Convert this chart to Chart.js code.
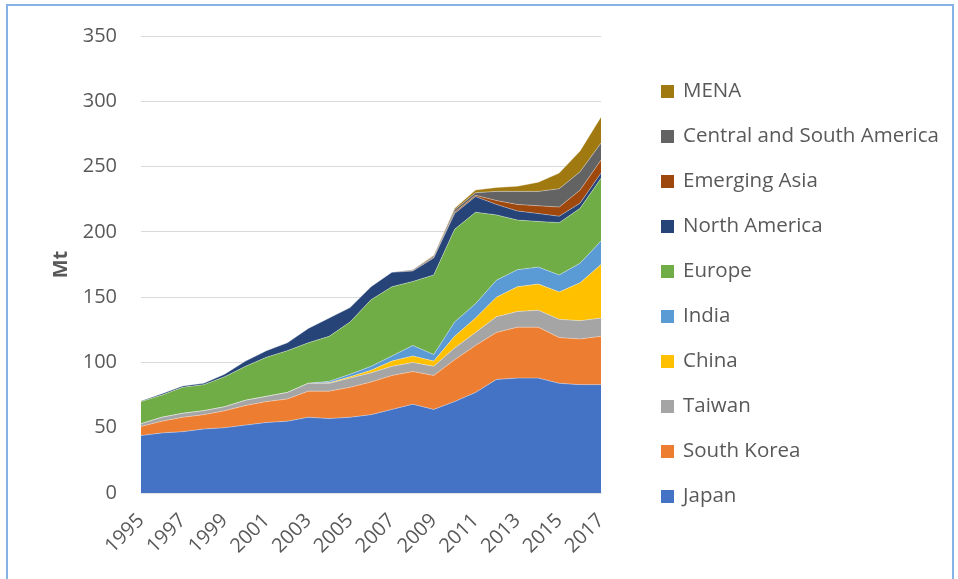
<!DOCTYPE html>
<html>
<head>
<meta charset="utf-8">
<script src="https://cdn.jsdelivr.net/npm/chart.js@4.4.1/dist/chart.umd.min.js"></script>
<style>
  html, body { margin: 0; padding: 0; background: #ffffff; }
  #wrap { position: relative; width: 958px; height: 579px; overflow: hidden; }
  #frame { position: absolute; left: 6px; top: 4px; width: 948px; height: 590px; border: 2px solid #86b3e3; box-sizing: border-box; pointer-events: none; }
  canvas { position: absolute; left: 0; top: 0; }
</style>
</head>
<body>
<div id="wrap">
  <canvas id="c" width="958" height="579"></canvas>
  <div id="frame"></div>
</div>
<script>
const years = ['1995','1996','1997','1998','1999','2000','2001','2002','2003','2004','2005','2006','2007','2008','2009','2010','2011','2012','2013','2014','2015','2016','2017'];

const japan       = [44,46,47,49,50,52,54,55,58,57,58,60,64,68,64,70,77,87,88,88,84,83,83];
const southKorea  = [7,9,11,11,13,15,16,17,20,21,23,25,26,25,26,32,36,36,39,39,35,35,37];
const taiwan      = [2,3,3,3,3,4,4,5,6,6,7,7,7,7,7,9,10,12,12,13,14,14,14];
const china       = [0,0,0,0,0,0,0,0,0,0.5,1,2,4,5,4,9,11,15,19,20,21,29,41];
const india       = [0,0,0,0,0,0,0,0,0,1,2,3,4,8,5,11,11,13,13,13,13,15,18];
const europe      = [17,17,20,20,23,26,30,32,31,34.5,40,51,53,49,61,71,70,50,38,35,40,42,48];
const northAmerica= [0.5,1,1,1,2,4,5,6,11,14,11,10,11,8,13,12,12,8,7,6,5,4,4];
const emergingAsia= [0,0,0,0,0,0,0,0,0,0,0,0,0,0.5,0.5,1,1,3,5,6,7,10,10];
const centralSouthAmerica = [0,0,0,0,0,0,0,0,0,0,0,0,0,0.5,1,2,2,7,10,11,14,14,13];
const mena        = [0,0,0,0,0,0,0,0,0,0,0,0,0,0,0.5,1,2,3,4,7,12,16,20];

const yTicks = [0,50,100,150,200,250,300,350];

const seriesNames = ['Japan','South Korea','Taiwan','China','India','Europe','North America','Emerging Asia','Central and South America','MENA'];
const seriesData = [japan, southKorea, taiwan, china, india, europe, northAmerica, emergingAsia, centralSouthAmerica, mena];
const seriesColors = ['#4472C4','#ED7D31','#A5A5A5','#FFC000','#5B9BD5','#70AD47','#264478','#9E480E','#636363','#A07A10'];

const textColor = '#595959';
Chart.defaults.font.family = "'Open Sans', 'Liberation Sans', sans-serif";
Chart.defaults.color = textColor;

const datasets = seriesNames.map((name, i) => ({
  label: name,
  data: seriesData[i],
  backgroundColor: seriesColors[i],
  borderColor: 'rgba(255,255,255,0.35)',
  borderWidth: 1,
  pointRadius: 0,
  tension: 0,
  fill: i === 0 ? 'origin' : '-1'
}));

const legendPlugin = {
  id: 'sideLegend',
  afterDraw(chart) {
    const ctx = chart.ctx;
    const items = chart.data.datasets.slice().reverse();
    ctx.save();
    ctx.font = "20.5px 'Open Sans', sans-serif";
    ctx.textBaseline = 'middle';
    ctx.textAlign = 'left';
    items.forEach((ds, k) => {
      const cy = 91.5 + k * 45;
      ctx.fillStyle = ds.backgroundColor;
      ctx.fillRect(661, cy - 6.5, 13, 13);
      ctx.fillStyle = textColor;
      ctx.fillText(ds.label, 683, cy);
    });
    ctx.restore();
  }
};

new Chart(document.getElementById('c'), {
  type: 'line',
  data: { labels: years, datasets },
  options: {
    responsive: false,
    animation: false,
    devicePixelRatio: 1,
    layout: { padding: { left: 0, top: 36, right: 357, bottom: 0 } },
    plugins: { legend: { display: false }, tooltip: { enabled: false } },
    elements: { line: { tension: 0 } },
    scales: {
      x: {
        offset: false,
        grid: { display: false, drawTicks: false },
        border: { display: true, color: '#E3E3E3' },
        ticks: {
          autoSkip: false,
          maxRotation: 45,
          minRotation: 45,
          padding: 16,
          color: textColor,
          font: { size: 20 },
          callback: function(value, index) { return index % 2 === 0 ? years[index] : ''; }
        },
        afterFit(scale) { scale.height = 86; }
      },
      y: {
        stacked: true,
        min: 0,
        max: 350,
        afterBuildTicks(scale) { scale.ticks = yTicks.map(v => ({ value: v })); },
        grid: { color: '#D9D9D9', lineWidth: 1, drawTicks: false },
        border: { display: false },
        ticks: { padding: 24, color: textColor, font: { size: 20 } },
        title: { display: true, text: 'Mt', color: textColor, font: { size: 20, weight: 'bold' }, padding: { top: 49, bottom: 0 } },
        afterFit(scale) { scale.width = 141; }
      }
    }
  },
  plugins: [legendPlugin]
});
</script>
</body>
</html>
